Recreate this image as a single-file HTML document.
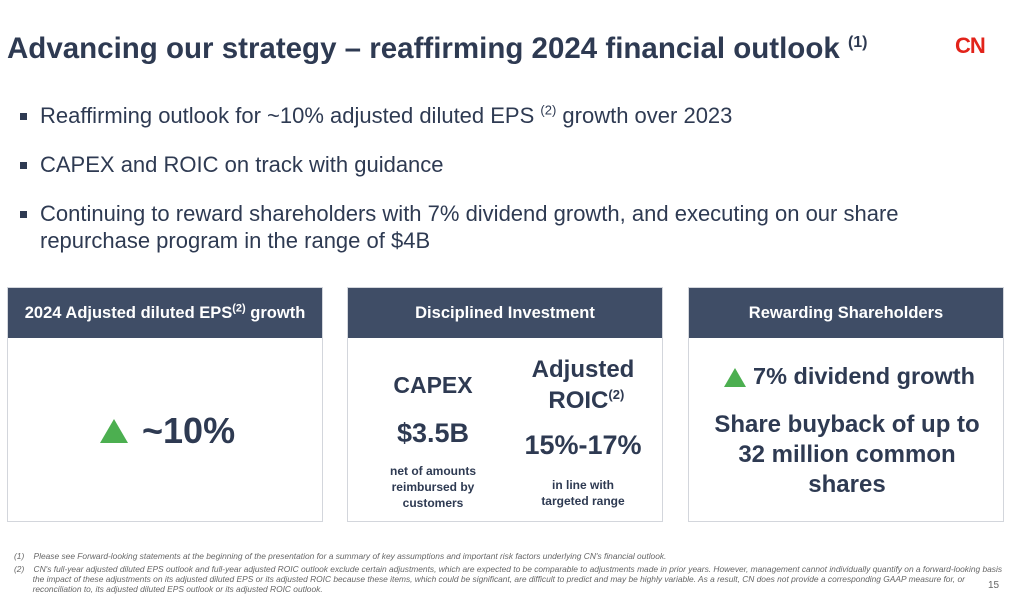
<!DOCTYPE html>
<html><head><meta charset="utf-8"><style>
body{margin:0;width:1024px;height:596px;background:#fff;position:relative;overflow:hidden;font-family:"Liberation Sans",sans-serif;color:#2e3a52}
.a{position:absolute}
.t{left:7px;top:32px;font-size:29.5px;font-weight:bold;color:#2e3a52;white-space:nowrap}
.b{left:40px;font-size:22px;color:#2e3a52;white-space:nowrap;line-height:27px}
.sq{left:20px;width:7px;height:7px;background:#2e3a52}
.box{border:1px solid #d3d6dc;box-sizing:border-box;top:287px;height:235px;width:316px}
.hd{top:0;left:0;right:0;height:50px;background:#3f4d66;color:#fff;font-weight:bold;font-size:16.5px;text-align:center;line-height:50px;position:absolute}
.c{text-align:center;font-weight:bold;color:#2e3a52;position:absolute}
.fn{font-size:8.4px;font-style:italic;color:#666;white-space:nowrap}
.tri{width:0;height:0;border-left:14px solid transparent;border-right:14px solid transparent;border-bottom:24px solid #4caf50}
sup{line-height:0}
</style></head><body>
<div class="a t">Advancing our strategy – reaffirming 2024 financial outlook <sup style="font-size:16px">(1)</sup></div>
<div class="a" style="left:955px;top:33px;font-size:22px;font-weight:bold;color:#e2231a;letter-spacing:-1px">CN</div>
<div class="a sq" style="top:113px"></div><div class="a b" style="top:102px">Reaffirming outlook for ~10% adjusted diluted EPS <sup style="font-size:13px">(2)</sup> growth over 2023</div>
<div class="a sq" style="top:162px"></div><div class="a b" style="top:151px">CAPEX and ROIC on track with guidance</div>
<div class="a sq" style="top:211px"></div><div class="a b" style="top:200px">Continuing to reward shareholders with 7% dividend growth, and executing on our share<br>repurchase program in the range of $4B</div>

<div class="a box" style="left:7px"><div class="hd">2024 Adjusted diluted EPS<sup style="font-size:11px">(2)</sup> growth</div>
<div class="a tri" style="left:92px;top:131px"></div>
<div class="c" style="left:134px;top:122px;font-size:36px">~10%</div></div>

<div class="a box" style="left:347px"><div class="hd">Disciplined Investment</div>
<div class="c" style="left:10px;width:150px;top:84px;font-size:23px">CAPEX</div>
<div class="c" style="left:10px;width:150px;top:130px;font-size:27px">$3.5B</div>
<div class="c" style="left:10px;width:150px;top:175px;font-size:12px;line-height:16px">net of amounts<br>reimbursed by<br>customers</div>
<div class="c" style="left:160px;width:150px;top:66px;font-size:24px;line-height:31px">Adjusted<br>&nbsp;ROIC<sup style="font-size:13px">(2)</sup></div>
<div class="c" style="left:160px;width:150px;top:142px;font-size:27px">15%-17%</div>
<div class="c" style="left:160px;width:150px;top:189px;font-size:12px;line-height:16px">in line with<br>targeted range</div></div>

<div class="a box" style="left:688px"><div class="hd">Rewarding Shareholders</div>
<div class="a" style="left:35px;top:80px;width:0;height:0;border-left:11px solid transparent;border-right:11px solid transparent;border-bottom:19px solid #4caf50"></div>
<div class="c" style="left:64px;top:75px;font-size:23.5px">7% dividend growth</div>
<div class="c" style="left:0;width:316px;top:122px;font-size:24px;line-height:30px">Share buyback of up to<br>32 million common<br>shares</div></div>

<div class="a fn" style="left:14px;top:551px">(1)&nbsp;&nbsp;&nbsp;&nbsp;Please see Forward-looking statements at the beginning of the presentation for a summary of key assumptions and important risk factors underlying CN's financial outlook.</div>
<div class="a fn" style="left:14px;top:564px;line-height:10px">(2)&nbsp;&nbsp;&nbsp;&nbsp;CN's full-year adjusted diluted EPS outlook and full-year adjusted ROIC outlook exclude certain adjustments, which are expected to be comparable to adjustments made in prior years. However, management cannot individually quantify on a forward-looking basis<br>&nbsp;&nbsp;&nbsp;&nbsp;&nbsp;&nbsp;&nbsp;&nbsp;the impact of these adjustments on its adjusted diluted EPS or its adjusted ROIC because these items, which could be significant, are difficult to predict and may be highly variable. As a result, CN does not provide a corresponding GAAP measure for, or<br>&nbsp;&nbsp;&nbsp;&nbsp;&nbsp;&nbsp;&nbsp;&nbsp;reconciliation to, its adjusted diluted EPS outlook or its adjusted ROIC outlook.</div>
<div class="a" style="left:988px;top:580px;font-size:10px;color:#666">15</div>
</body></html>
